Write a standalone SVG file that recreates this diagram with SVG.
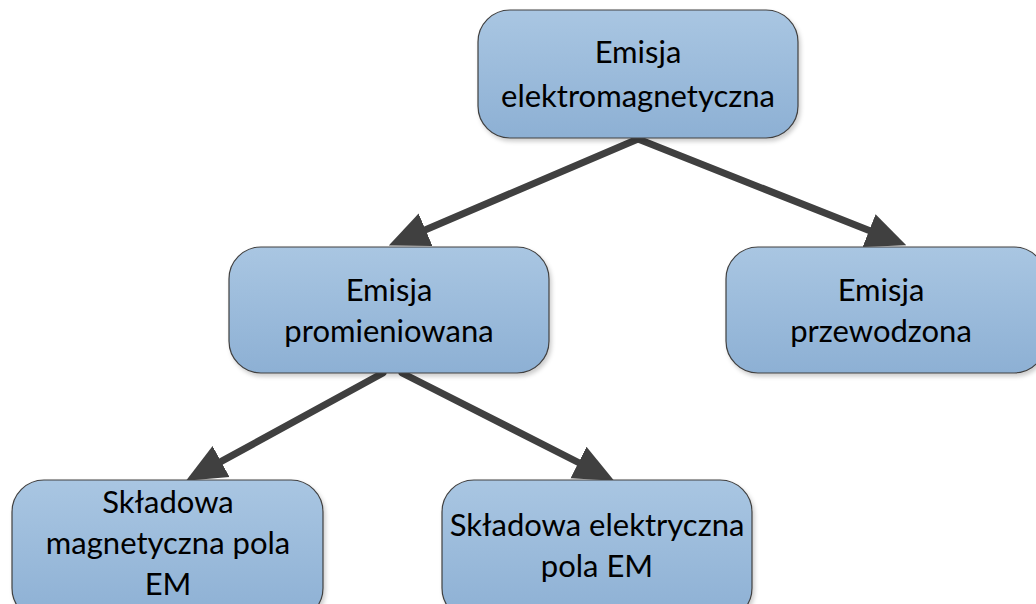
<svg xmlns="http://www.w3.org/2000/svg" width="1036" height="604" viewBox="0 0 1036 604">
<style>
.box{fill:url(#g);stroke:#404040;stroke-width:1.2;filter:url(#sh)}
.t{font-family:Lato,"Open Sans","Liberation Sans",sans-serif;font-size:31px;fill:#000;text-anchor:middle}
.c{stroke:#404040;stroke-width:7;fill:none;marker-end:url(#ah);stroke-linecap:round}
</style>
<defs>
<linearGradient id="g" x1="0" y1="0" x2="0" y2="1">
<stop offset="0" stop-color="#a9c6e2"/>
<stop offset="1" stop-color="#8db0d4"/>
</linearGradient>
<filter id="sh" x="-10%" y="-10%" width="120%" height="130%">
<feDropShadow dx="2" dy="3" stdDeviation="2" flood-color="#000" flood-opacity="0.2"/>
</filter>
<marker id="ah" markerUnits="userSpaceOnUse" markerWidth="40" markerHeight="40" viewBox="0 0 34 30" refX="14" refY="15" orient="auto">
<path d="M0,0 L34,15 L0,30 Z" fill="#404040"/>
</marker>
</defs>
<g id="connectors">
<line class="c" x1="638" y1="139" x2="410.4" y2="236.2"/>
<line class="c" x1="638" y1="139" x2="884.4" y2="236.6"/>
<line class="c" x1="383" y1="373" x2="206.6" y2="469.4"/>
<line class="c" x1="402" y1="373" x2="593.2" y2="470"/>
</g>
<g id="n1"><rect class="box" x="478" y="10" width="320" height="128" rx="32"/>
<text class="t" x="638" y="63">Emisja</text><text class="t" x="638" y="107">elektromagnetyczna</text></g>
<g id="n2"><rect class="box" x="229" y="247" width="320" height="126" rx="32"/>
<text class="t" x="389" y="301">Emisja</text><text class="t" x="389" y="342">promieniowana</text></g>
<g id="n3"><rect class="box" x="726" y="247" width="320" height="126" rx="32"/>
<text class="t" x="881" y="301">Emisja</text><text class="t" x="881" y="342">przewodzona</text></g>
<g id="n4"><rect class="box" x="12" y="480" width="311" height="140" rx="32"/>
<text class="t" x="168" y="513">Składowa</text><text class="t" x="168" y="554">magnetyczna pola</text><text class="t" x="168" y="595">EM</text></g>
<g id="n5"><rect class="box" x="442" y="480" width="310" height="140" rx="32"/>
<text class="t" x="597" y="536">Składowa elektryczna</text><text class="t" x="597" y="577">pola EM</text></g>
</svg>
